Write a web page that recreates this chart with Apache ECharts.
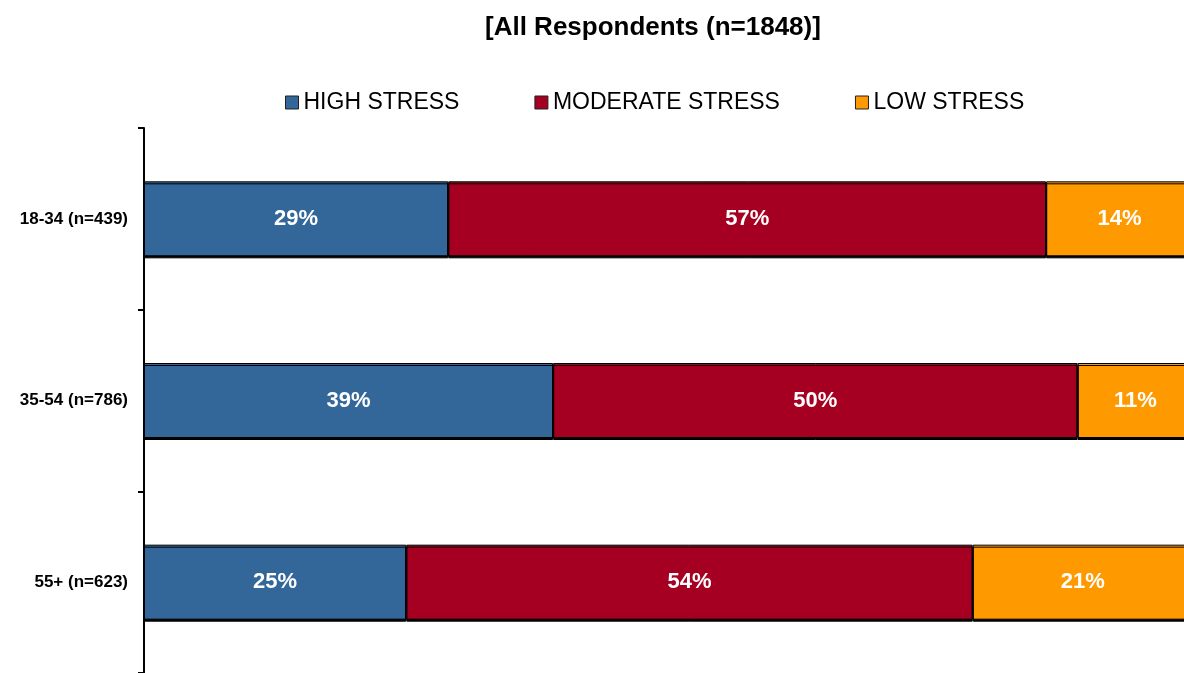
<!DOCTYPE html>
<html>
<head>
<meta charset="utf-8">
<script src="https://cdn.jsdelivr.net/npm/echarts@6/dist/echarts.min.js"></script>
<style>
  html, body { margin: 0; padding: 0; background: #fff; }
  #chart { width: 1184px; height: 673px; }
</style>
</head>
<body>
<div id="chart"></div>
<script>
const categories = ['18-34 (n=439)', '35-54 (n=786)', '55+ (n=623)'];
const highStress = [29, 39, 25];
const moderateStress = [57, 50, 54];
const lowStress = [14, 11, 21];

const chart = echarts.init(document.getElementById('chart'));

const barStyle = (color) => ({
  color: color,
  borderColor: '#000',
  borderWidth: 1,
  shadowColor: '#000',
  shadowOffsetY: 2,
  shadowBlur: 0
});

const barLabel = {
  show: true,
  position: 'inside',
  formatter: '{c}%',
  color: '#fff',
  fontFamily: 'Liberation Sans',
  fontWeight: 'bold',
  fontSize: 22
};

const option = {
  animation: false,
  title: {
    text: '[All Respondents (n=1848)]',
    left: 480,
    top: 10,
    textStyle: {
      fontFamily: 'Liberation Sans',
      fontWeight: 'bold',
      fontSize: 26,
      color: '#000'
    }
  },
  legend: {
    left: 280,
    top: 86,
    itemWidth: 13,
    itemHeight: 13,
    itemGap: 75,
    icon: 'rect',
    itemStyle: { borderColor: '#222', borderWidth: 1 },
    textStyle: { fontFamily: 'Liberation Sans', fontSize: 23, color: '#000' },
    data: ['HIGH STRESS', 'MODERATE STRESS', 'LOW STRESS']
  },
  grid: {
    left: 144,
    top: 128,
    width: 1049,
    bottom: 0,
    outerBoundsMode: 'none'
  },
  xAxis: {
    type: 'value',
    min: 0,
    max: 100,
    show: false
  },
  yAxis: {
    type: 'category',
    inverse: true,
    data: categories,
    axisLine: { show: true, lineStyle: { color: '#000', width: 2 } },
    axisTick: { show: true, length: 6, lineStyle: { color: '#000', width: 2 } },
    axisLabel: {
      margin: 16,
      color: '#000',
      fontFamily: 'Liberation Sans',
      fontWeight: 'bold',
      fontSize: 17
    }
  },
  series: [
    { name: 'HIGH STRESS', type: 'bar', stack: 'total', data: highStress, barWidth: 75, itemStyle: barStyle('#336699'), label: barLabel },
    { name: 'MODERATE STRESS', type: 'bar', stack: 'total', data: moderateStress, barWidth: 75, itemStyle: barStyle('#A50021'), label: barLabel },
    { name: 'LOW STRESS', type: 'bar', stack: 'total', data: lowStress, barWidth: 75, itemStyle: barStyle('#FF9900'), label: barLabel }
  ]
};

chart.setOption(option);
</script>
</body>
</html>
